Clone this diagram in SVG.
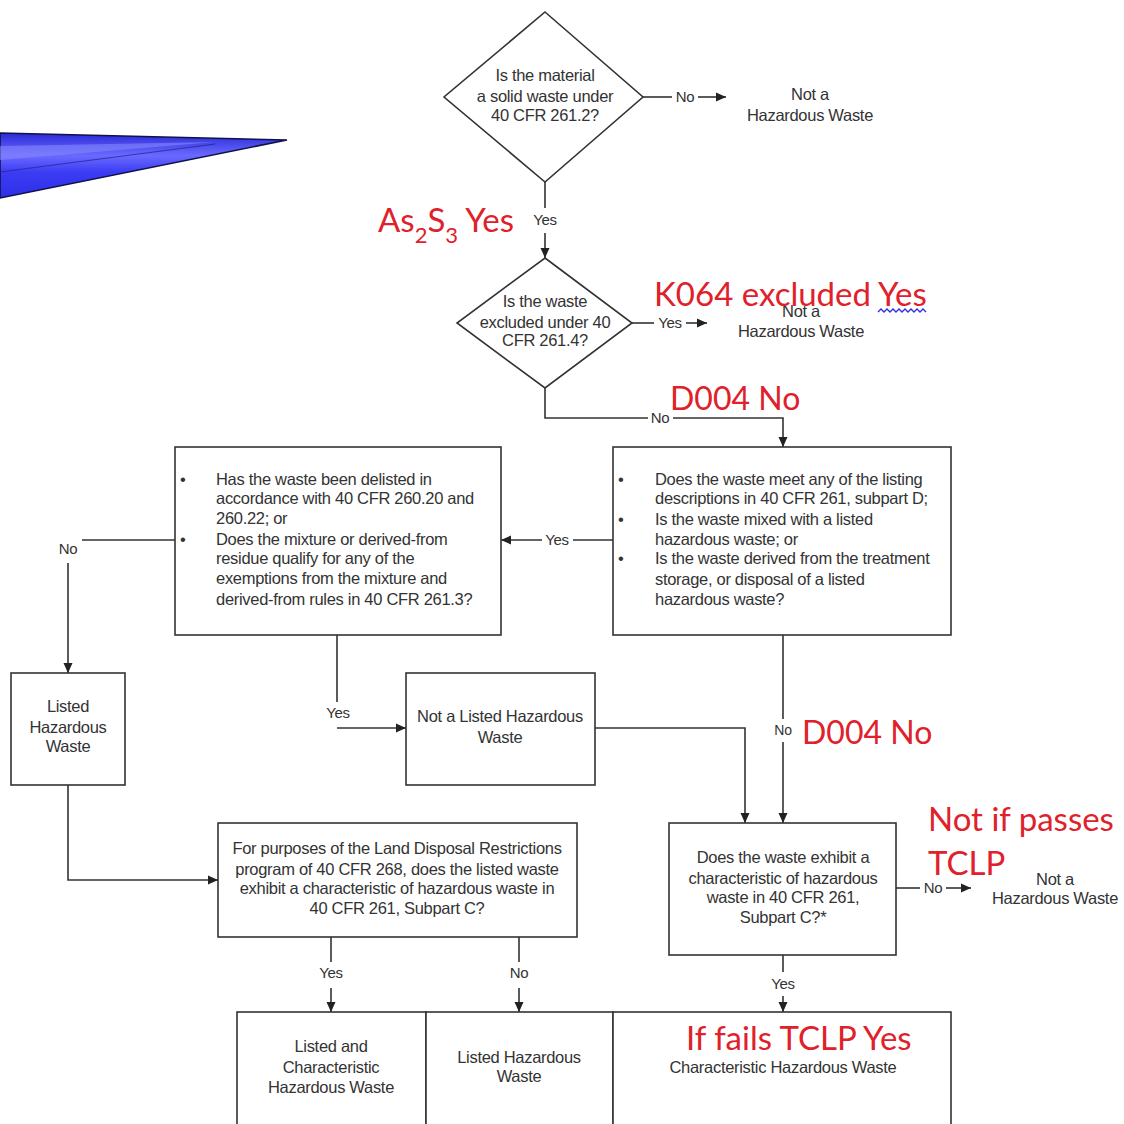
<svg xmlns="http://www.w3.org/2000/svg" width="1124" height="1124" viewBox="0 0 1124 1124">
  <style>
    .box { fill: #ffffff; stroke: #333333; stroke-width: 1.6; }
    .t { font-family: "Liberation Sans", Arial, sans-serif; font-size: 16.5px; fill: #333333; letter-spacing: -0.3px; }
    .c { text-anchor: middle; }
    .lbl { font-family: "Liberation Sans", Arial, sans-serif; font-size: 15px; fill: #333333; text-anchor: middle; letter-spacing: -0.3px; }
    .wire { fill: none; stroke: #333333; stroke-width: 1.6; }
    .arr { marker-end: url(#head); }
    .red { font-family: Lato, "Noto Sans", sans-serif; font-size: 33px; fill: #e0202a; }
  </style>
  <defs>
    <marker id="head" viewBox="0 0 10 10" refX="10" refY="5" markerWidth="10" markerHeight="10" markerUnits="userSpaceOnUse" orient="auto">
      <path d="M0,0.5 L10,5 L0,9.5 z" fill="#222222"/>
    </marker>
    <linearGradient id="wedge" x1="0" y1="0" x2="0" y2="1">
      <stop offset="0" stop-color="#2a2ad8"/>
      <stop offset="0.35" stop-color="#6a6aff"/>
      <stop offset="0.6" stop-color="#3c3cf4"/>
      <stop offset="1" stop-color="#2e2ee6"/>
    </linearGradient>
  </defs>

  <rect width="1124" height="1124" fill="#ffffff"/>

  <!-- blue pointer wedge entering from the left edge -->
  <g id="pointer">
    <polygon points="0,133 287,140 0,198" fill="url(#wedge)" stroke="#12124a" stroke-width="1.6" stroke-linejoin="miter"/>
    <polygon points="0,146 215,142 0,160" fill="#8a8aff" opacity="0.55"/>
    <polyline points="0,172 215,144" fill="none" stroke="#22228a" stroke-width="1.2" opacity="0.7"/>
  </g>

  <!-- connectors and their branch labels -->
  <g id="connectors">
    <!-- solid waste question: No -->
    <line class="wire" x1="643" y1="97" x2="672" y2="97"/>
    <text class="lbl" x="685" y="102">No</text>
    <line class="wire arr" x1="698" y1="97" x2="726" y2="97"/>
    <!-- solid waste question: Yes -->
    <line class="wire" x1="545" y1="182" x2="545" y2="208"/>
    <text class="lbl" x="545" y="225">Yes</text>
    <line class="wire arr" x1="545" y1="233" x2="545" y2="258"/>
    <!-- exclusion question: Yes -->
    <line class="wire" x1="632" y1="323" x2="654" y2="323"/>
    <text class="lbl" x="670" y="328">Yes</text>
    <line class="wire arr" x1="686" y1="323" x2="707" y2="323"/>
    <!-- exclusion question: No -->
    <polyline class="wire" points="545,388 545,418 648,418"/>
    <text class="lbl" x="660" y="423">No</text>
    <polyline class="wire arr" points="673,418 783,418 783,447"/>
    <!-- listing question: Yes -->
    <line class="wire" x1="613" y1="540" x2="573" y2="540"/>
    <text class="lbl" x="557" y="545">Yes</text>
    <line class="wire arr" x1="542" y1="540" x2="501" y2="540"/>
    <!-- delisting question: No -->
    <line class="wire" x1="82" y1="540" x2="175" y2="540"/>
    <text class="lbl" x="68" y="554">No</text>
    <line class="wire arr" x1="68" y1="563" x2="68" y2="673"/>
    <!-- delisting question: Yes -->
    <line class="wire" x1="337" y1="635" x2="337" y2="702"/>
    <text class="lbl" x="338" y="718">Yes</text>
    <line class="wire arr" x1="337" y1="728" x2="406" y2="728"/>
    <!-- not listed to characteristic question -->
    <polyline class="wire arr" points="595,728 745,728 745,823"/>
    <!-- listing question: No -->
    <line class="wire" x1="783" y1="635" x2="783" y2="719"/>
    <text class="lbl" x="783" y="735" style="font-size:14px">No</text>
    <line class="wire arr" x1="783" y1="742" x2="783" y2="823"/>
    <!-- listed hazardous waste to LDR question -->
    <polyline class="wire arr" points="68,785 68,880 218,880"/>
    <!-- characteristic question: No -->
    <line class="wire" x1="896" y1="888" x2="920" y2="888"/>
    <text class="lbl" x="933" y="893">No</text>
    <line class="wire arr" x1="946" y1="888" x2="971" y2="888"/>
    <!-- characteristic question: Yes -->
    <line class="wire" x1="783" y1="955" x2="783" y2="972"/>
    <text class="lbl" x="783" y="989">Yes</text>
    <line class="wire arr" x1="783" y1="996" x2="783" y2="1012"/>
    <!-- LDR question: Yes / No -->
    <line class="wire" x1="331" y1="937" x2="331" y2="962"/>
    <text class="lbl" x="331" y="978">Yes</text>
    <line class="wire arr" x1="331" y1="988" x2="331" y2="1012"/>
    <line class="wire" x1="519" y1="937" x2="519" y2="962"/>
    <text class="lbl" x="519" y="978">No</text>
    <line class="wire arr" x1="519" y1="988" x2="519" y2="1012"/>
  </g>

  <!-- decision: solid waste -->
  <g id="q-solid-waste">
    <polygon class="box" points="545,12 643,97 545,182 444,97"/>
    <text class="t c" x="545" y="81">Is the material</text>
    <text class="t c" x="545" y="102">a solid waste under</text>
    <text class="t c" x="545" y="121">40 CFR 261.2?</text>
  </g>

  <g id="end-not-hw-1">
    <text class="t c" x="810" y="100">Not a</text>
    <text class="t c" x="810" y="121">Hazardous Waste</text>
  </g>

  <!-- decision: exclusion -->
  <g id="q-excluded">
    <polygon class="box" points="545,258 632,323 545,388 457,323"/>
    <text class="t c" x="545" y="307">Is the waste</text>
    <text class="t c" x="545" y="328">excluded under 40</text>
    <text class="t c" x="545" y="346">CFR 261.4?</text>
  </g>

  <g id="end-not-hw-2">
    <text class="t c" x="801" y="317">Not a</text>
    <text class="t c" x="801" y="337">Hazardous Waste</text>
  </g>

  <!-- listing question -->
  <g id="q-listing">
    <rect class="box" x="613" y="447" width="338" height="188"/>
    <text class="t" x="618" y="485">•</text>
    <text class="t" x="655" y="485">Does the waste meet any of the listing</text>
    <text class="t" x="655" y="504">descriptions in 40 CFR 261, subpart D;</text>
    <text class="t" x="618" y="525">•</text>
    <text class="t" x="655" y="525">Is the waste mixed with a listed</text>
    <text class="t" x="655" y="545">hazardous waste; or</text>
    <text class="t" x="618" y="564">•</text>
    <text class="t" x="655" y="564">Is the waste derived from the treatment</text>
    <text class="t" x="655" y="585">storage, or disposal of a listed</text>
    <text class="t" x="655" y="605">hazardous waste?</text>
  </g>

  <!-- delisting / exemption question -->
  <g id="q-delisted">
    <rect class="box" x="175" y="447" width="326" height="188"/>
    <text class="t" x="180" y="485">•</text>
    <text class="t" x="216" y="485">Has the waste been delisted in</text>
    <text class="t" x="216" y="504">accordance with 40 CFR 260.20 and</text>
    <text class="t" x="216" y="524">260.22; or</text>
    <text class="t" x="180" y="545">•</text>
    <text class="t" x="216" y="545">Does the mixture or derived-from</text>
    <text class="t" x="216" y="564">residue qualify for any of the</text>
    <text class="t" x="216" y="584">exemptions from the mixture and</text>
    <text class="t" x="216" y="605">derived-from rules in 40 CFR 261.3?</text>
  </g>

  <g id="listed-hw">
    <rect class="box" x="11" y="673" width="114" height="112"/>
    <text class="t c" x="68" y="712">Listed</text>
    <text class="t c" x="68" y="733">Hazardous</text>
    <text class="t c" x="68" y="752">Waste</text>
  </g>

  <g id="not-listed-hw">
    <rect class="box" x="406" y="673" width="189" height="112"/>
    <text class="t c" x="500" y="722">Not a Listed Hazardous</text>
    <text class="t c" x="500" y="743">Waste</text>
  </g>

  <!-- characteristic question -->
  <g id="q-characteristic">
    <rect class="box" x="669" y="823" width="227" height="132"/>
    <text class="t c" x="783" y="863">Does the waste exhibit a</text>
    <text class="t c" x="783" y="884">characteristic of hazardous</text>
    <text class="t c" x="783" y="903">waste in 40 CFR 261,</text>
    <text class="t c" x="783" y="923">Subpart C?*</text>
  </g>

  <g id="end-not-hw-3">
    <text class="t c" x="1055" y="885">Not a</text>
    <text class="t c" x="1055" y="904">Hazardous Waste</text>
  </g>

  <!-- land disposal restrictions question -->
  <g id="q-ldr">
    <rect class="box" x="218" y="823" width="359" height="114"/>
    <text class="t c" x="397" y="854">For purposes of the Land Disposal Restrictions</text>
    <text class="t c" x="397" y="875">program of 40 CFR 268, does the listed waste</text>
    <text class="t c" x="397" y="894">exhibit a characteristic of hazardous waste in</text>
    <text class="t c" x="397" y="914">40 CFR 261, Subpart C?</text>
  </g>

  <!-- outcome boxes along the bottom -->
  <g id="out-listed-char">
    <rect class="box" x="237" y="1012" width="189" height="130"/>
    <text class="t c" x="331" y="1052">Listed and</text>
    <text class="t c" x="331" y="1073">Characteristic</text>
    <text class="t c" x="331" y="1093">Hazardous Waste</text>
  </g>
  <g id="out-listed">
    <rect class="box" x="426" y="1012" width="187" height="130"/>
    <text class="t c" x="519" y="1063">Listed Hazardous</text>
    <text class="t c" x="519" y="1082">Waste</text>
  </g>
  <g id="out-char">
    <rect class="box" x="613" y="1012" width="338" height="130"/>
    <text class="t c" x="783" y="1073">Characteristic Hazardous Waste</text>
  </g>

  <!-- red annotations -->
  <g id="notes">
    <text class="red" x="378" y="232">As<tspan dy="11" style="font-size:22px">2</tspan><tspan dy="-11">S</tspan><tspan dy="11" style="font-size:22px">3</tspan><tspan dy="-11"> Yes</tspan></text>
    <text class="red" x="654" y="306">K064 excluded Yes</text>
    <path d="M878,312 l3,-3 l3,3 l3,-3 l3,3 l3,-3 l3,3 l3,-3 l3,3 l3,-3 l3,3 l3,-3 l3,3 l3,-3 l3,3 l3,-3 l3,3" fill="none" stroke="#3030e0" stroke-width="1.4"/>
    <text class="red" x="670" y="410" style="font-size:32px">D004 No</text>
    <text class="red" x="802" y="744" style="font-size:32px">D004 No</text>
    <text class="red" x="928" y="831">Not if passes</text>
    <text class="red" x="928" y="875">TCLP</text>
    <text class="red" x="686" y="1050">If fails TCLP Yes</text>
  </g>
</svg>
